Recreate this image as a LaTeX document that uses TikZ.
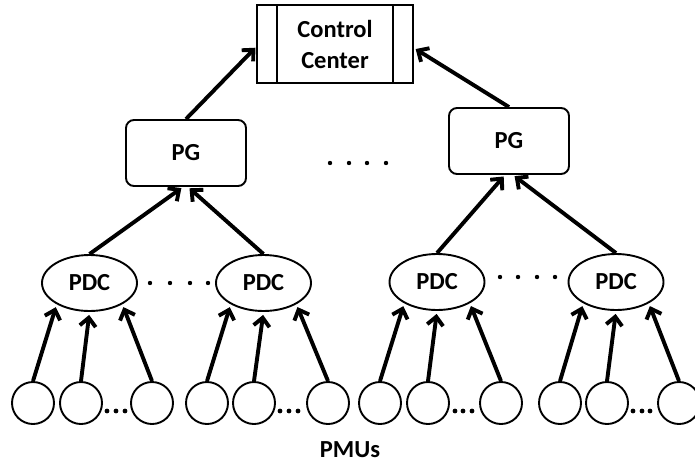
\documentclass[tikz,border=0pt]{standalone}
\usepackage{fontspec}
\setmainfont{Carlito}
\usetikzlibrary{arrows.meta,shapes.geometric}

\begin{document}
\begin{tikzpicture}[x=1pt,y=-1pt,
  every node/.style={font=\fontsize{24.5}{31}\selectfont\bfseries},
  box/.style={draw,line width=1.9pt,inner sep=0pt},
  pgbox/.style={box,rounded corners=8pt,minimum width=120pt,minimum height=66pt},
  pdcell/.style={box,ellipse,minimum width=95pt,minimum height=56pt},
  pmu/.style={box,circle,minimum size=42pt},
  link/.style={line width=3.9pt,-{Straight Barb[length=8.5pt,width=16pt]}},
  dot/.style={fill=black}
]
\useasboundingbox (0,0) rectangle (695,463);

% control centre with its two side bars
\node[box,minimum width=156pt,minimum height=78pt,align=center] (cc) at (335,44) {Control\\Center};
\draw[line width=1.9pt] ([xshift=21pt]cc.north west) -- ([xshift=21pt]cc.south west);
\draw[line width=1.9pt] ([xshift=-21pt]cc.north east) -- ([xshift=-21pt]cc.south east);

% phasor gateways
\node[pgbox] (pg1) at (186,153) {PG};
\node[pgbox] (pg2) at (509,141) {PG};

% data concentrators
\node[pdcell] (d1) at (89.5,283) {PDC};
\node[pdcell] (d2) at (263.5,283) {PDC};
\node[pdcell] (d3) at (437,282) {PDC};
\node[pdcell] (d4) at (616,282) {PDC};

% measurement units
\foreach \n/\x in {1/33,2/81,3/152,4/207,5/254,6/328,7/380,8/428,9/501,10/560,11/607,12/679}
  \node[pmu] (m\n) at (\x,403) {};

\node (lbl) at (350,450) {PMUs};

% PMU -> PDC
\foreach \d/\a/\b/\c in {d1/1/2/3,d2/4/5/6,d3/7/8/9,d4/10/11/12}{
  \draw[link,shorten >=3pt] (m\a.north) -- (\d.213);
  \draw[link,shorten >=3pt] (m\b.north) -- (\d.270);
  \draw[link,shorten >=3pt] (m\c.north) -- (\d.327);
}

% PDC -> PG
\draw[link,shorten >=2pt] (d1.north) -- ([xshift=-3pt]pg1.south);
\draw[link,shorten >=2pt] (d2.north) -- ([xshift=2pt]pg1.south);
\draw[link,shorten >=2pt] (d3.north) -- ([xshift=-4pt]pg2.south);
\draw[link,shorten >=2pt] (d4.north) -- ([xshift=4pt]pg2.south);

% PG -> control centre
\draw[link,shorten >=1pt] (pg1.north) -- ([yshift=-3pt]cc.west);
\draw[link,shorten >=2pt] (pg2.north) -- ([yshift=-4pt]cc.east);

% ellipsis marks
\foreach \x in {330,349,367,386} \fill[dot] (\x,163) circle (2.2pt);
\foreach \x in {150,170,190,208} \fill[dot] (\x,283) circle (2.2pt);
\foreach \x in {500,518,537,555} \fill[dot] (\x,277) circle (2.2pt);
\foreach \x in {107,116,125,280,289,298,455,463,472,633,642,650}
  \fill[dot] (\x,411) circle (2.4pt);
\end{tikzpicture}
\end{document}
